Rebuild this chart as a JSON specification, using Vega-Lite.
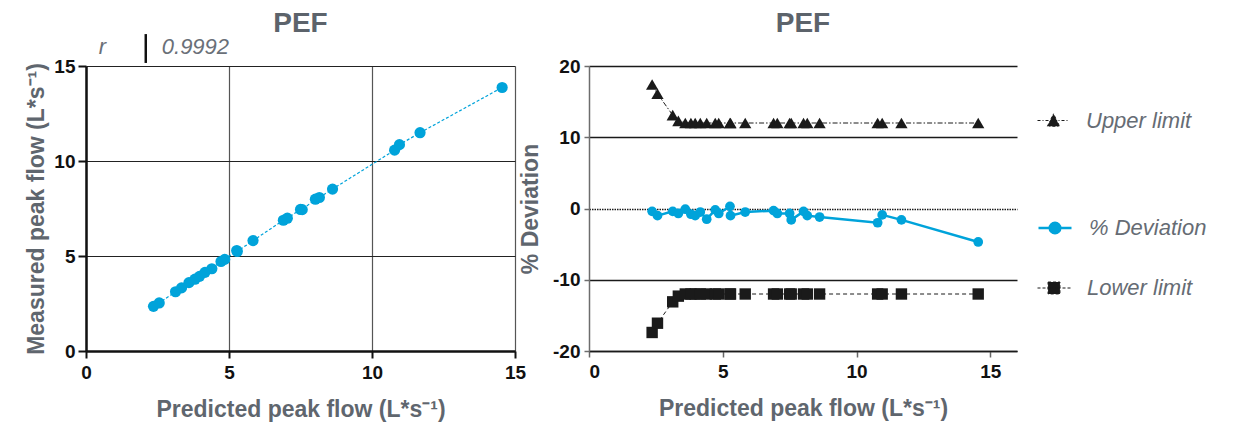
{
  "$schema": "https://vega.github.io/schema/vega-lite/v6.json",
  "background": "white",
  "padding": {"left": 25, "top": 9, "right": 5, "bottom": 5},
  "datasets": {
    "pef": [
      {"pred": 2.36, "meas": 2.35, "dev": -0.4, "upper": 17.4, "lower": -17.4},
      {"pred": 2.56, "meas": 2.53, "dev": -1.0, "upper": 16.1, "lower": -16.1},
      {"pred": 3.13, "meas": 3.12, "dev": -0.4, "upper": 13.1, "lower": -13.1},
      {"pred": 3.34, "meas": 3.32, "dev": -0.7, "upper": 12.3, "lower": -12.3},
      {"pred": 3.60, "meas": 3.60, "dev": -0.1, "upper": 12, "lower": -12},
      {"pred": 3.81, "meas": 3.78, "dev": -0.8, "upper": 12, "lower": -12},
      {"pred": 3.97, "meas": 3.93, "dev": -1.0, "upper": 12, "lower": -12},
      {"pred": 4.16, "meas": 4.14, "dev": -0.5, "upper": 12, "lower": -12},
      {"pred": 4.40, "meas": 4.33, "dev": -1.5, "upper": 12, "lower": -12},
      {"pred": 4.72, "meas": 4.71, "dev": -0.2, "upper": 12, "lower": -12},
      {"pred": 4.85, "meas": 4.82, "dev": -0.7, "upper": 12, "lower": -12},
      {"pred": 5.27, "meas": 5.29, "dev": 0.3, "upper": 12, "lower": -12},
      {"pred": 5.29, "meas": 5.24, "dev": -1.0, "upper": 12, "lower": -12},
      {"pred": 5.84, "meas": 5.81, "dev": -0.5, "upper": 12, "lower": -12},
      {"pred": 6.90, "meas": 6.88, "dev": -0.3, "upper": 12, "lower": -12},
      {"pred": 7.04, "meas": 6.99, "dev": -0.7, "upper": 12, "lower": -12},
      {"pred": 7.50, "meas": 7.45, "dev": -0.7, "upper": 12, "lower": -12},
      {"pred": 7.56, "meas": 7.44, "dev": -1.6, "upper": 12, "lower": -12},
      {"pred": 8.02, "meas": 7.99, "dev": -0.4, "upper": 12, "lower": -12},
      {"pred": 8.16, "meas": 8.08, "dev": -1.0, "upper": 12, "lower": -12},
      {"pred": 8.62, "meas": 8.52, "dev": -1.2, "upper": 12, "lower": -12},
      {"pred": 10.79, "meas": 10.57, "dev": -2.0, "upper": 12, "lower": -12},
      {"pred": 10.96, "meas": 10.86, "dev": -0.9, "upper": 12, "lower": -12},
      {"pred": 11.68, "meas": 11.49, "dev": -1.6, "upper": 12, "lower": -12},
      {"pred": 14.55, "meas": 13.87, "dev": -4.7, "upper": 12, "lower": -12}
    ],
    "stat": [{"stat": "r", "value": "0.9992"}]
  },
  "config": {
    "font": "Liberation Sans",
    "view": {"stroke": null},
    "title": {"fontSize": 28, "fontWeight": "bold", "color": "#5c636b", "anchor": "middle"},
    "axis": {
      "labelFontSize": 19, "labelFontWeight": "bold", "labelColor": "#111111",
      "titleFontSize": 23, "titleFontWeight": "bold", "titleColor": "#5f666e"
    }
  },
  "bounds": "flush",
  "spacing": 74,
  "hconcat": [
    {
      "width": 429,
      "height": 285,
      "title": {"text": "PEF", "offset": -5},
      "layer": [
        {
          "data": {"name": "pef"},
          "mark": {"type": "line", "color": "#00a3da", "strokeWidth": 1.2, "strokeDash": [3, 2]},
          "encoding": {
            "x": {"field": "pred", "type": "quantitative", "title": "Predicted peak flow (L*s⁻¹)",
              "scale": {"domain": [0, 15], "nice": false},
              "axis": {"values": [0, 5, 10, 15], "grid": true, "gridColor": "#555555", "gridWidth": 1.2,
                "domainColor": "#111111", "domainWidth": 2.5, "tickColor": "#111111", "tickWidth": 2,
                "tickSize": 7, "labelPadding": 5, "titlePadding": 16, "labelFlush": false,
                "labelFontWeight": "bold", "labelFontSize": 19, "titleFontSize": 23}},
            "y": {"field": "meas", "type": "quantitative", "title": "Measured peak flow (L*s⁻¹)",
              "scale": {"domain": [0, 15], "nice": false},
              "axis": {"values": [0, 5, 10, 15], "grid": true, "gridColor": "#222222", "gridWidth": 1.2,
                "domainColor": "#111111", "domainWidth": 2.5, "tickColor": "#111111", "tickWidth": 2,
                "tickSize": 8, "labelPadding": 3, "titlePadding": 5, "labelFlush": false,
                "labelFontWeight": "bold", "labelFontSize": 19, "titleFontSize": 23}}
          }
        },
        {
          "data": {"name": "pef"},
          "mark": {"type": "point", "filled": true, "shape": "circle", "size": 125, "color": "#00a3da", "opacity": 1},
          "encoding": {
            "x": {"field": "pred", "type": "quantitative", "title": "Predicted peak flow (L*s⁻¹)"},
            "y": {"field": "meas", "type": "quantitative", "title": "Measured peak flow (L*s⁻¹)"}
          }
        },
        {
          "data": {"name": "stat"},
          "mark": {"type": "text", "align": "left", "baseline": "alphabetic", "fontStyle": "italic", "fontSize": 22, "color": "#6a7078", "clip": false},
          "encoding": {
            "x": {"datum": 0.45, "type": "quantitative", "title": "Predicted peak flow (L*s⁻¹)"},
            "y": {"datum": 15.63, "type": "quantitative", "title": "Measured peak flow (L*s⁻¹)"},
            "text": {"field": "stat"}
          }
        },
        {
          "data": {"name": "stat"},
          "mark": {"type": "text", "align": "left", "baseline": "alphabetic", "fontStyle": "italic", "fontSize": 22, "color": "#6a7078", "clip": false},
          "encoding": {
            "x": {"datum": 2.65, "type": "quantitative", "title": "Predicted peak flow (L*s⁻¹)"},
            "y": {"datum": 15.63, "type": "quantitative", "title": "Measured peak flow (L*s⁻¹)"},
            "text": {"field": "value"}
          }
        },
        {
          "data": {"name": "stat"},
          "mark": {"type": "rule", "strokeWidth": 2.5, "color": "#111111", "clip": false},
          "encoding": {
            "x": {"datum": 2.09, "type": "quantitative", "title": "Predicted peak flow (L*s⁻¹)"},
            "y": {"datum": 15.16, "type": "quantitative", "title": "Measured peak flow (L*s⁻¹)"},
            "y2": {"datum": 16.68}
          }
        }
      ]
    },
    {
      "width": 428,
      "height": 285,
      "title": {"text": "PEF", "offset": 19},
      "data": {"name": "pef"},
      "encoding": {
        "x": {"field": "pred", "type": "quantitative", "title": "Predicted peak flow (L*s⁻¹)",
          "scale": {"domain": [0, 16], "nice": false},
          "axis": {"values": [0, 5, 10, 15], "grid": false, "domainColor": "#1a1a1a", "domainWidth": 1.5,
            "tickColor": "#666666", "tickWidth": 1.5, "tickSize": 6, "labelPadding": 5, "titlePadding": 16,
            "labelFontWeight": "bold", "labelFontSize": 19, "titleFontSize": 23}}
      },
      "resolve": {"scale": {"color": "independent"}, "legend": {"color": "independent"}},
      "layer": [
        {
          "encoding": {
            "y": {"field": "upper", "type": "quantitative", "title": "% Deviation",
              "scale": {"domain": [-20, 20], "nice": false},
              "axis": {"values": [-20, -10, 0, 10, 20], "grid": true, "gridColor": "#1a1a1a", "gridWidth": 1.5,
                "gridDash": {"condition": {"test": "datum.value === 0", "value": [1.5, 1]}, "value": []},
                "domainColor": "#6d6d6d", "domainWidth": 1.5, "tickColor": "#6d6d6d", "tickWidth": 1.5,
                "tickSize": 5, "labelPadding": 4, "titlePadding": 10,
                "labelExpr": "replace(datum.label, '\u2212', '-')",
                "labelFontWeight": "bold", "labelFontSize": 19, "titleFontSize": 23}},
            "color": {"datum": "Upper limit", "scale": {"range": ["#1a1a1a"]},
              "legend": {"title": null, "orient": "none", "legendX": 448, "legendY": 38, "padding": 0,
                "symbolType": "M-1,0L1,0M-0.38,0.36L0,-0.42L0.38,0.36Z", "symbolSize": 1024,
                "symbolFillColor": "#1a1a1a", "symbolStrokeColor": "#1a1a1a", "symbolStrokeWidth": 1,
                "symbolDash": [3, 2, 1, 2], "symbolOpacity": 1,
                "labelFontSize": 22, "labelFontStyle": "italic", "labelColor": "#666c74", "labelOffset": 16}}
          },
          "layer": [
            {"mark": {"type": "line", "strokeWidth": 1, "strokeDash": [5, 2, 1.5, 2]}},
            {"mark": {"type": "point", "shape": "triangle-up", "filled": true, "size": 150, "opacity": 1}}
          ]
        },
        {
          "encoding": {
            "y": {"field": "dev", "type": "quantitative", "title": "% Deviation"},
            "color": {"datum": "% Deviation", "scale": {"range": ["#00a3da"]},
              "legend": {"title": null, "orient": "none", "legendX": 448, "legendY": 144, "padding": 0,
                "symbolType": "M-1,0L1,0M-0.32,0A0.32,0.32,0,1,0,0.32,0A0.32,0.32,0,1,0,-0.32,0Z", "symbolSize": 1089,
                "symbolFillColor": "#00a3da", "symbolStrokeColor": "#00a3da", "symbolStrokeWidth": 2.5,
                "symbolOpacity": 1,
                "labelFontSize": 22, "labelFontStyle": "italic", "labelColor": "#666c74", "labelOffset": 16}}
          },
          "layer": [
            {"mark": {"type": "line", "strokeWidth": 2.5}},
            {"mark": {"type": "point", "shape": "circle", "filled": true, "size": 95, "opacity": 1}}
          ]
        },
        {
          "encoding": {
            "y": {"field": "lower", "type": "quantitative", "title": "% Deviation"},
            "color": {"datum": "Lower limit", "scale": {"range": ["#1a1a1a"]},
              "legend": {"title": null, "orient": "none", "legendX": 448, "legendY": 205, "padding": 0,
                "symbolType": "M-1,0L1,0M-0.36,-0.36L0.36,-0.36L0.36,0.36L-0.36,0.36Z", "symbolSize": 1089,
                "symbolFillColor": "#1a1a1a", "symbolStrokeColor": "#1a1a1a", "symbolStrokeWidth": 1,
                "symbolDash": [3, 2], "symbolOpacity": 1,
                "labelFontSize": 22, "labelFontStyle": "italic", "labelColor": "#666c74", "labelOffset": 16}}
          },
          "layer": [
            {"mark": {"type": "line", "strokeWidth": 1, "strokeDash": [4, 3]}},
            {"mark": {"type": "point", "shape": "square", "filled": true, "size": 130, "opacity": 1}}
          ]
        }
      ]
    }
  ]
}
